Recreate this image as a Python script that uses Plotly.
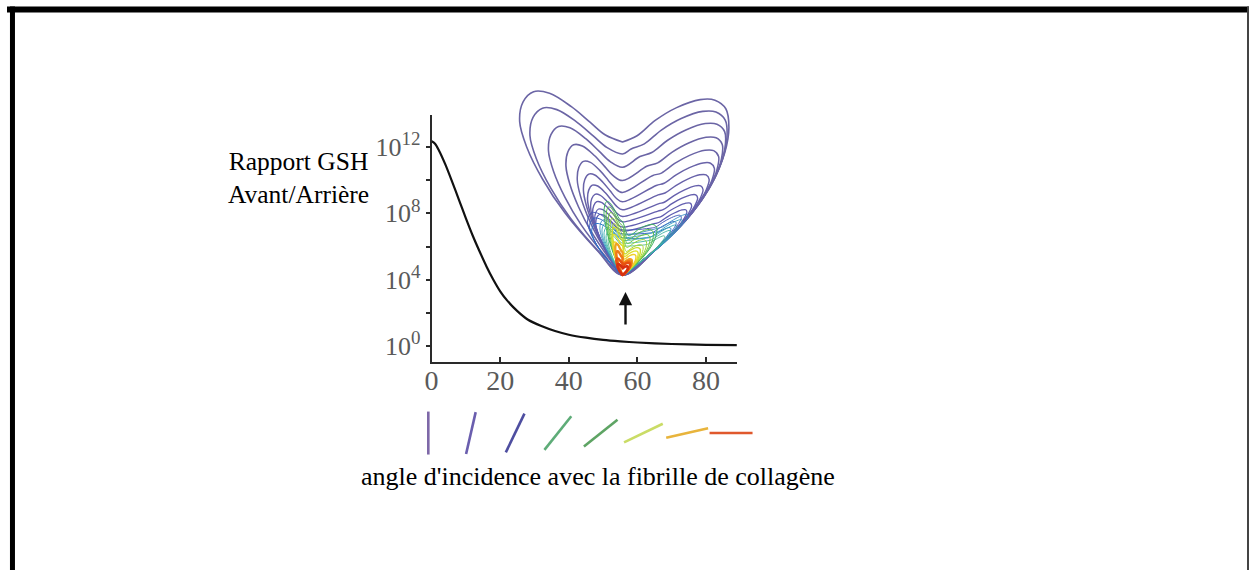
import numpy as np
import plotly.graph_objects as go

W, H = 1249, 570
DX = -3  # small horizontal registration correction
def PX(x): return (x + DX) / W
def PY(y): return 1 - y / H

# ---------------- data ----------------
# main curve: incidence angle (deg) vs log10 of forward/backward SHG ratio
ANGLE = [0, 1, 2, 4, 6, 8, 10, 12, 14, 16, 18, 20, 22, 25, 28, 32, 36, 40, 45, 50, 55, 60, 70, 80, 89]
LOG_RATIO = [12.35, 12.2, 11.85, 10.95, 9.9, 8.8, 7.7, 6.65, 5.7, 4.8, 4.0, 3.3, 2.75, 2.1, 1.6,
             1.2, 0.9, 0.68, 0.5, 0.37, 0.28, 0.21, 0.12, 0.07, 0.05]

X_TICKS = [0, 20, 40, 60, 80]
Y_TICK_EXP = [0, 2, 4, 6, 8, 10, 12]
Y_TICK_SHOWN = [True, False, True, False, True, False, True]

# inset: emission-pattern lobe profile (angle from vertical, radius)
PROFILE_ANGLE = [-50, -46, -43, -40, -37, -34, -30, -26, -22, -17, -12, -7, 0, 6, 12, 18, 24, 28, 32, 36, 40, 44, 48, 52, 56]
PROFILE_RADIUS = [0, 35, 85, 125, 160, 185, 200, 204, 196, 176, 156, 141, 133, 140, 158, 176, 192, 198, 196, 182, 160, 130, 90, 45, 0]
RIGHT_EDGE_ANGLE = 56

# per contour: vertical scale / width of left lobe, radial scale / angular squeeze of right lobe
C_SY = [1.00, 0.91, 0.81, 0.71, 0.62, 0.55, 0.49, 0.44, 0.40, 0.36, 0.33,
        0.34, 0.31, 0.28,
        0.30, 0.28, 0.26, 0.24, 0.22,
        0.40, 0.37, 0.34, 0.31, 0.28,
        0.26, 0.22, 0.18,
        0.17, 0.13,
        0.09, 0.06]
C_SXL = [1.00, 0.90, 0.72, 0.55, 0.44, 0.38, 0.34, 0.31, 0.29, 0.27, 0.26,
         0.34, 0.32, 0.30,
         0.22, 0.20, 0.18, 0.16, 0.14,
         0.18, 0.16, 0.14, 0.12, 0.10,
         0.10, 0.10, 0.09,
         0.07, 0.06,
         0.06, 0.05]
C_SR = [1.00, 0.95, 0.90, 0.84, 0.78, 0.72, 0.66, 0.60, 0.55, 0.50, 0.46,
        0.42, 0.38, 0.34,
        0.45, 0.41, 0.37, 0.33, 0.29,
        0.30, 0.27, 0.24, 0.21, 0.18,
        0.16, 0.14, 0.12,
        0.09, 0.08,
        0.07, 0.05]
C_CR = [1.00, 0.93, 0.85, 0.77, 0.70, 0.63, 0.57, 0.52, 0.48, 0.45, 0.42,
        0.42, 0.40, 0.38,
        0.32, 0.32, 0.32, 0.32, 0.32,
        0.85, 0.85, 0.85, 0.85, 0.85,
        0.90, 0.90, 0.90,
        1.00, 1.00,
        1.00, 1.00]
C_COLOR = ["#6b65a5", "#6b65a5", "#6b65a5", "#6b65a5", "#6a64a6", "#6963a8", "#6862aa", "#6660ac", "#645fae", "#625eb0", "#5f5cb2",
           "#4a5ab8", "#3a64c4", "#2c74c8",
           "#3a8cc4", "#34a0bc", "#38acb0", "#40b4a0", "#50b890",
           "#40b060", "#58bc48", "#78c840", "#98d438", "#b0d830",
           "#c8dc30", "#e0e030", "#f0d028",
           "#f0a020", "#f07818",
           "#e85010", "#d83010"]
C_WIDTH = [1.6, 1.6, 1.6, 1.6, 1.5, 1.5, 1.5, 1.4, 1.4, 1.3, 1.3,
           1.0, 1.0, 1.0,
           0.9, 0.9, 0.9, 0.9, 0.9,
           1.0, 1.0, 1.0, 1.0, 1.0,
           1.4, 1.4, 1.4,
           2.2, 2.4,
           2.6, 2.6]

# orientation pictograms below the axis
SEG_POS = [-0.96, 11.45, 24.35, 36.8, 49.3, 61.75, 74.5, 87.3]
SEG_ANGLE = [0, 12.9, 25.7, 38.6, 51.4, 64.3, 77.1, 90]
SEG_COLOR = ["#7e68a8", "#6a5eae", "#4e4ea0", "#5eac78", "#5ea464", "#cadc66", "#e8b43c", "#e0582c"]

# ---------------- figure ----------------
fig = go.Figure()

fig.add_trace(go.Scatter(
    x=ANGLE, y=[10 ** v for v in LOG_RATIO], mode="lines",
    line=dict(color="#111111", width=2.2, shape="spline", smoothing=0.6),
    xaxis="x", yaxis="y", hoverinfo="skip"))

phi_all = np.array(PROFILE_ANGLE, dtype=float)
rad_all = np.array(PROFILE_RADIUS, dtype=float)
left = phi_all <= 0
right = phi_all >= 0
for sy, sxl, sr, cr, col, w in zip(C_SY, C_SXL, C_SR, C_CR, C_COLOR, C_WIDTH):
    pl = np.radians(phi_all[left])
    xl = rad_all[left] * np.sin(pl) * sxl
    yl = rad_all[left] * np.cos(pl) * sy
    pr = np.radians(RIGHT_EDGE_ANGLE - (RIGHT_EDGE_ANGLE - phi_all[right]) * cr)
    xr = rad_all[right] * sr * np.sin(pr)
    yr = rad_all[right] * sr * np.cos(pr)
    xs = np.concatenate([xl, xr])
    ys = np.concatenate([yl, yr])
    fig.add_trace(go.Scatter(
        x=xs, y=ys, mode="lines",
        line=dict(color=col, width=w, shape="spline", smoothing=1.0),
        xaxis="x2", yaxis="y2", hoverinfo="skip"))

fig.add_trace(go.Scatter(
    x=SEG_POS, y=[0.49] * len(SEG_POS), mode="markers",
    marker=dict(symbol="line-ns", size=30.7, angle=SEG_ANGLE,
                line=dict(color=SEG_COLOR, width=2.6)),
    xaxis="x3", yaxis="y3", cliponaxis=False, hoverinfo="skip"))

y_ticktext = [("10<sup><span style='font-size:19px'>%d</span></sup>" % e) if s else ""
              for e, s in zip(Y_TICK_EXP, Y_TICK_SHOWN)]

fig.update_layout(
    width=W, height=H, margin=dict(l=0, r=0, t=0, b=0),
    paper_bgcolor="white", plot_bgcolor="rgba(0,0,0,0)", showlegend=False,
    xaxis=dict(domain=[PX(430), PX(737)], range=[0, 89], anchor="y",
               showline=True, linecolor="#2a2a2a", linewidth=2,
               ticks="inside", ticklen=5, tickwidth=1.5, tickcolor="#2a2a2a",
               tickmode="array", tickvals=X_TICKS, ticklabelstandoff=-8,
               tickfont=dict(family="Liberation Serif", size=28, color="#5a5a5a"),
               showgrid=False, zeroline=False),
    yaxis=dict(domain=[PY(362), PY(115)], type="log", range=[-0.965, 13.93], anchor="x",
               showline=True, linecolor="#2a2a2a", linewidth=2,
               ticks="outside", ticklen=4, tickwidth=1.5, tickcolor="#2a2a2a",
               tickmode="array", tickvals=[10 ** e for e in Y_TICK_EXP], ticktext=y_ticktext,
               tickfont=dict(family="Liberation Serif", size=26, color="#5a5a5a"),
               showgrid=False, zeroline=False),
    xaxis2=dict(domain=[PX(500), PX(750)], range=[-122, 128], visible=False, anchor="y2"),
    yaxis2=dict(domain=[PY(285), PY(80)], range=[-10, 195], visible=False, anchor="x2"),
    xaxis3=dict(domain=[PX(412.76), PX(737)], range=[-5, 89], visible=False, anchor="y3"),
    yaxis3=dict(domain=[PY(460), PY(405)], range=[0, 1], visible=False, anchor="x3"),
)

fig.add_annotation(x=PX(296), y=PY(178), xref="paper", yref="paper",
                   text="Rapport GSH<br>Avant/Arrière", showarrow=False,
                   font=dict(family="Liberation Serif", size=25.5, color="black"),
                   align="center", xanchor="center", yanchor="middle")
fig.add_annotation(x=PX(597), y=PY(476), xref="paper", yref="paper",
                   text="angle d'incidence avec la fibrille de collagène", showarrow=False,
                   font=dict(family="Liberation Serif", size=26, color="black"),
                   xanchor="center", yanchor="middle")
fig.add_annotation(x=PX(625), y=PY(292), ax=0, ay=34,
                   xref="paper", yref="paper", axref="pixel", ayref="pixel",
                   text="", showarrow=True, arrowhead=2, arrowsize=1.1, arrowwidth=2.4,
                   arrowcolor="#111111")

# frame
fig.add_shape(type="line", xref="paper", yref="paper", x0=0.0, x1=1.0, y0=PY(9.5), y1=PY(9.5),
              line=dict(color="black", width=6))
fig.add_shape(type="line", xref="paper", yref="paper", x0=5.5 / W, x1=5.5 / W, y0=PY(6.5), y1=PY(580),
              line=dict(color="black", width=5))
fig.add_shape(type="line", xref="paper", yref="paper", x0=1248 / W, x1=1248 / W, y0=PY(6.5), y1=PY(580),
              line=dict(color="#444444", width=2))

fig.write_html("out.html", config={"displayModeBar": False},
               post_script="document.body.style.margin='0';document.body.style.overflow='hidden';")
